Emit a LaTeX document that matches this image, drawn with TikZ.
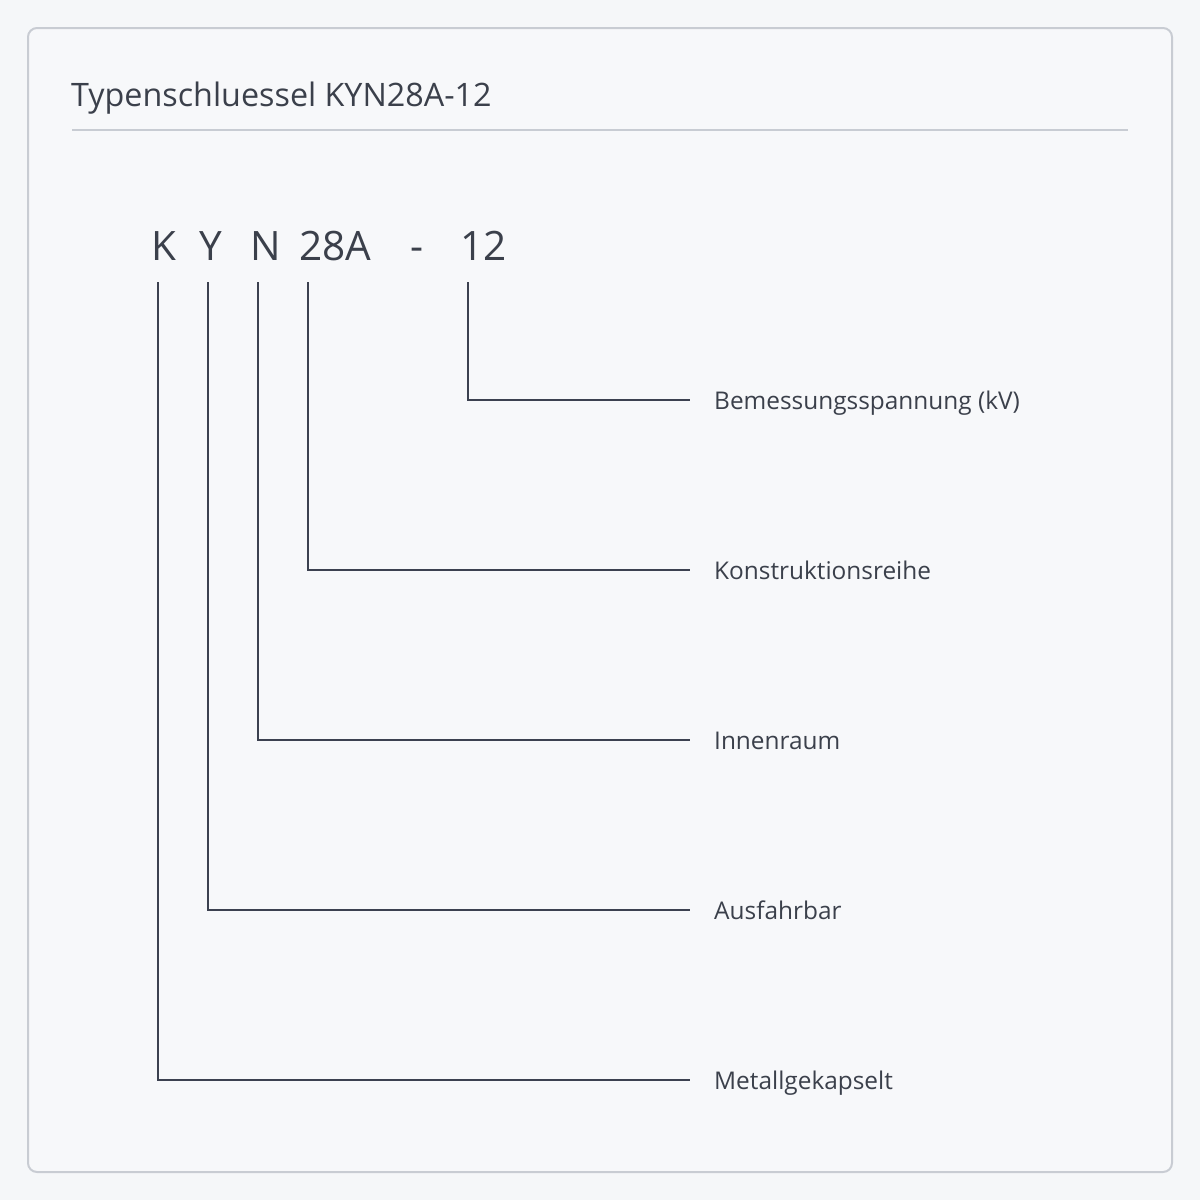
\documentclass[tikz,border=0pt]{standalone}
\usepackage{fontspec}
\setmainfont{Open Sans}
\definecolor{bg}{HTML}{F5F7F9}
\definecolor{cardbg}{HTML}{F7F8FA}
\definecolor{cardline}{HTML}{C8CCD3}
\definecolor{ink}{HTML}{3B404B}
\definecolor{wire}{HTML}{3C4150}
\tikzset{
  titletext/.style={font=\fontsize{32.3}{38}\selectfont, text=ink, inner sep=0pt, anchor=base west},
  codetext/.style={font=\fontsize{40.5}{46}\selectfont, text=ink, inner sep=0pt, anchor=base west},
  labeltext/.style={font=\fontsize{24.4}{28}\selectfont, text=ink, inner sep=0pt, anchor=west, text height=18pt, text depth=0pt},
  wireline/.style={draw=wire, line width=2pt},
}
\begin{document}
\begin{tikzpicture}[x=1pt,y=-1pt]
\useasboundingbox (0,0) rectangle (1200,1200);
\fill[bg] (0,0) rectangle (1200,1200);
\draw[cardline, fill=cardbg, line width=2pt, rounded corners=9pt] (28,28) rectangle (1172,1172);
\node[titletext] (title) at (71,106) {Typenschluessel KYN28A-12};
\draw[cardline, line width=2pt] (72,130) -- (1128,130);
% code characters
\node[codetext] (cK) at (151,260) {K};
\node[codetext] (cY) at (199,260) {Y};
\node[codetext] (cN) at (250,260) {N};
\node[codetext] (c28) at (299,260) {28A};
\node[codetext] (cdash) at (410,260) {-};
\node[codetext] (c12) at (460,260) {12};
% line tops
\coordinate (tK) at (158,282);
\coordinate (tY) at (208,282);
\coordinate (tN) at (258,282);
\coordinate (t28) at (308,282);
\coordinate (t12) at (468,282);
% labels
\node[labeltext] (l12) at (714,400) {Bemessungsspannung (kV)};
\node[labeltext] (l28) at (714,570) {Konstruktionsreihe};
\node[labeltext] (lN) at (714,740) {Innenraum};
\node[labeltext] (lY) at (714,910) {Ausfahrbar};
\node[labeltext] (lK) at (714,1080) {Metallgekapselt};
% connectors
\draw[wireline] (t12) |- ([xshift=-24pt]l12.west);
\draw[wireline] (t28) |- ([xshift=-24pt]l28.west);
\draw[wireline] (tN) |- ([xshift=-24pt]lN.west);
\draw[wireline] (tY) |- ([xshift=-24pt]lY.west);
\draw[wireline] (tK) |- ([xshift=-24pt]lK.west);
\end{tikzpicture}
\end{document}
